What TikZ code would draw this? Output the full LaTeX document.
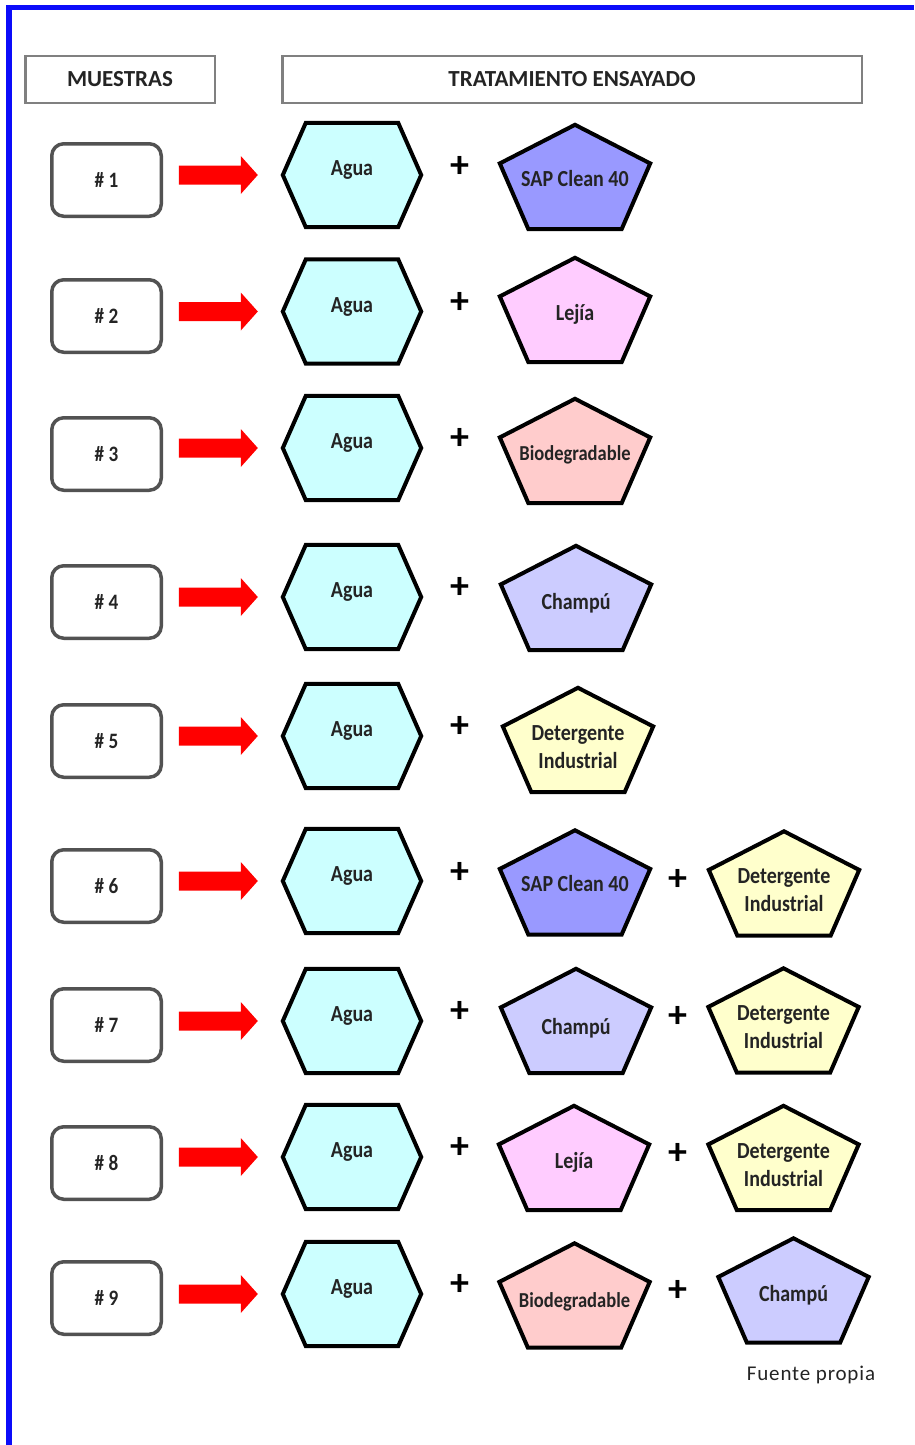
\documentclass[tikz,border=0pt]{standalone}
\usepackage{fontspec}
\setmainfont{Carlito}
\newfontfamily\tallfont[FakeStretch=0.87]{Carlito}
\newfontfamily\notefont[LetterSpace=4]{Carlito}
\usetikzlibrary{calc}

\definecolor{frameblue}{RGB}{12,12,250}
\definecolor{aguafill}{RGB}{204,255,255}
\definecolor{sapfill}{RGB}{153,153,255}
\definecolor{lejiafill}{RGB}{255,204,255}
\definecolor{biofill}{RGB}{255,204,204}
\definecolor{champufill}{RGB}{204,204,255}
\definecolor{detfill}{RGB}{255,255,204}
\definecolor{inkgray}{RGB}{36,36,36}
\definecolor{arrowred}{RGB}{255,0,0}

\tikzset{
  header/.style={draw=black!50, line width=2.5pt, minimum height=46.5pt,
    font=\fontsize{23}{27}\selectfont\bfseries, text=inkgray, inner sep=0pt},
  sample/.style={draw=black!68, line width=3.5pt, rounded corners=12pt,
    minimum width=109.5pt, minimum height=72.5pt,
    font=\tallfont\fontsize{22}{24}\selectfont\bfseries, text=inkgray},
  hexbox/.style={minimum width=138pt, minimum height=104pt, inner sep=0pt},
  pentbox/.style={minimum width=150pt, minimum height=104pt, inner sep=0pt},
  outline/.style={draw=black, line width=4pt, line join=miter},
  shapetext/.style={text=inkgray, align=center, inner sep=0pt},
  plussign/.style={font=\fontsize{38}{38}\selectfont\bfseries, text=black, inner sep=0pt},
}

% hexagon holding the water component: name, x, y, text
\newcommand\hexshape[4]{%
  \path (#2,#3) node[hexbox] (#1) {};
  \filldraw[outline, fill=aguafill] (#1.west) -- ([xshift=23pt]#1.north west)
    -- ([xshift=-23pt]#1.north east) -- (#1.east)
    -- ([xshift=-23pt]#1.south east) -- ([xshift=23pt]#1.south west) -- cycle;
  \node[shapetext, font=\tallfont\fontsize{23}{28}\selectfont\bfseries] (#1-t)
    at ($(#1.center)+(0,-5)$) {#4};
}

% pentagon holding a product: name, x, y, fill, font size, text shift, text
\newcommand\pentshape[7]{%
  \path (#2,#3) node[pentbox] (#1) {};
  \filldraw[outline, fill=#4] (#1.north)
    -- ($(#1.north east)!0.37!(#1.south east)$)
    -- ($(#1.south east)!0.19!(#1.south west)$)
    -- ($(#1.south west)!0.19!(#1.south east)$)
    -- ($(#1.north west)!0.37!(#1.south west)$) -- cycle;
  \node[shapetext, font=\tallfont\fontsize{#5}{28}\selectfont\bfseries] (#1-t)
    at ($(#1.center)+(0,#6)$) {#7};
}

% block arrow from a sample box to its water hexagon
\newcommand\redarrow[2]{%
  \fill[arrowred] let \p1=(#1.east), \p2=(#2.west) in
    (\x1+15.75pt,\y2+9.5pt) -- (\x2-42pt,\y2+9.5pt) -- (\x2-42pt,\y2+19pt)
    -- (\x2-25pt,\y2) -- (\x2-42pt,\y2-19pt) -- (\x2-42pt,\y2-9.5pt)
    -- (\x1+15.75pt,\y2-9.5pt) -- cycle;
}

\begin{document}
\begin{tikzpicture}[x=1pt, y=-1pt]
\useasboundingbox (0,0) rectangle (914,1445);

% frame lines along the top and left edges
\draw[frameblue, line width=5.5pt, line join=miter] (9,1445) -- (9,7.5) -- (914,7.5);

% column headers
\node[header, minimum width=189.5pt] (hm) at (120,79.5) {MUESTRAS};
\node[header, minimum width=579.5pt] (ht) at (572,79.5) {TRATAMIENTO ENSAYADO};

% samples
\node[sample] (s1) at (106.5,180) {\# 1};
\node[sample] (s2) at (106.5,316) {\# 2};
\node[sample] (s3) at (106.5,454) {\# 3};
\node[sample] (s4) at (106.5,602) {\# 4};
\node[sample] (s5) at (106.5,741) {\# 5};
\node[sample] (s6) at (106.5,886) {\# 6};
\node[sample] (s7) at (106.5,1025) {\# 7};
\node[sample] (s8) at (106.5,1163) {\# 8};
\node[sample] (s9) at (106.5,1298) {\# 9};

% water in every treatment
\hexshape{h1}{352}{175}{Agua}
\hexshape{h2}{352}{311.5}{Agua}
\hexshape{h3}{352}{448}{Agua}
\hexshape{h4}{352}{597}{Agua}
\hexshape{h5}{352}{736}{Agua}
\hexshape{h6}{352}{881}{Agua}
\hexshape{h7}{352}{1021}{Agua}
\hexshape{h8}{352}{1157}{Agua}
\hexshape{h9}{352}{1294}{Agua}

% arrows
\redarrow{s1}{h1}
\redarrow{s2}{h2}
\redarrow{s3}{h3}
\redarrow{s4}{h4}
\redarrow{s5}{h5}
\redarrow{s6}{h6}
\redarrow{s7}{h7}
\redarrow{s8}{h8}
\redarrow{s9}{h9}

% plus signs after the water
\node[plussign] (q1) at (460,167) {+};
\node[plussign] (q2) at (460,303) {+};
\node[plussign] (q3) at (460,439) {+};
\node[plussign] (q4) at (460,588) {+};
\node[plussign] (q5) at (460,727) {+};
\node[plussign] (q6) at (460,873) {+};
\node[plussign] (q7) at (460,1012) {+};
\node[plussign] (q8) at (460,1148) {+};
\node[plussign] (q9) at (460,1285) {+};

% products
\pentshape{p1a}{575}{177}{sapfill}{23}{2}{SAP Clean 40}
\pentshape{p2a}{575}{310}{lejiafill}{23}{4}{Lejía}
\pentshape{p3a}{575}{451}{biofill}{21.3}{4}{Biodegradable}
\pentshape{p4a}{576}{598}{champufill}{23}{5}{Champú}
\pentshape{p5a}{578}{740}{detfill}{23}{7}{Detergente\\Industrial}
\pentshape{p6a}{575}{882.5}{sapfill}{23}{1}{SAP Clean 40}
\pentshape{p7a}{576}{1021}{champufill}{23}{7}{Champú}
\pentshape{p8a}{574}{1158}{lejiafill}{23}{4}{Lejía}
\pentshape{p9a}{574.5}{1295.5}{biofill}{21.3}{6}{Biodegradable}

% second products
\node[plussign] (r6) at (678,880) {+};
\node[plussign] (r7) at (678,1017) {+};
\node[plussign] (r8) at (678,1154) {+};
\node[plussign] (r9) at (678,1291) {+};
\pentshape{p6b}{784}{883.5}{detfill}{23}{7}{Detergente\\Industrial}
\pentshape{p7b}{783.5}{1020.5}{detfill}{23}{7}{Detergente\\Industrial}
\pentshape{p8b}{783.5}{1158}{detfill}{23}{7}{Detergente\\Industrial}
\pentshape{p9b}{793.5}{1290.5}{champufill}{23}{5}{Champú}

% source note
\node[font=\notefont\fontsize{21}{24}\selectfont, text=inkgray, inner sep=0pt] (src)
  at (811,1375) {Fuente propia};
\end{tikzpicture}
\end{document}
